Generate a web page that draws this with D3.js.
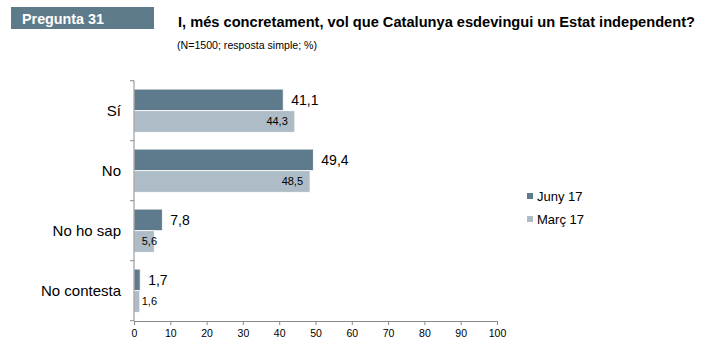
<html>
<script src="https://cdn.jsdelivr.net/npm/d3@7"></script>
<body style="margin:0">
<svg width=708 height=349></svg>
</body>
<script>

var categories = ["Sí", "No", "No ho sap", "No contesta"];
var series = ["Juny 17", "Març 17"];
var juny = [41.1, 49.4, 7.8, 1.7];
var marc = [44.3, 48.5, 5.6, 1.6];
var ticks = [0, 10, 20, 30, 40, 50, 60, 70, 80, 90, 100];
var colors = ["#5d7b8c", "#adbcc6"];

var svg = d3.select("svg").style("font-family", "Liberation Sans, Arial, sans-serif");
svg.append("rect").attr("width", 708).attr("height", 349).attr("fill", "#fff");

// header
svg.append("rect").attr("x", 11).attr("y", 7).attr("width", 143).attr("height", 22).attr("fill", "#5d7b8b");
svg.append("text").attr("x", 22).attr("y", 24).attr("fill", "#fff")
  .attr("font-weight", "bold").attr("font-size", 14.5)
  .attr("textLength", 82).attr("lengthAdjust", "spacingAndGlyphs").text("Pregunta 31");
svg.append("text").attr("x", 178).attr("y", 27).attr("fill", "#000")
  .attr("font-weight", "bold").attr("font-size", 14.5)
  .attr("textLength", 517).attr("lengthAdjust", "spacingAndGlyphs")
  .text("I, més concretament, vol que Catalunya esdevingui un Estat independent?");
svg.append("text").attr("x", 177).attr("y", 49).attr("font-size", 10.5)
  .attr("textLength", 140).attr("lengthAdjust", "spacingAndGlyphs")
  .text("(N=1500; resposta simple; %)");

var x = d3.scaleLinear().domain([0, 100]).range([134, 497]);
var y = d3.scaleBand().domain(categories).range([80.7, 320.7]).paddingInner(0.28).paddingOuter(0.14);
var y1 = d3.scaleBand().domain(series).range([0, y.bandwidth()]);

// bars
var data = categories.map(function(c, i) { return {cat: c, vals: [juny[i], marc[i]]}; });
var g = svg.selectAll("g.cat").data(data).enter().append("g")
  .attr("transform", function(d) { return "translate(0," + y(d.cat) + ")"; });

g.selectAll("rect").data(function(d) { return d.vals; }).enter().append("rect")
  .attr("x", x(0))
  .attr("y", function(d, i) { return y1(series[i]); })
  .attr("width", function(d) { return x(d) - x(0); })
  .attr("height", y1.bandwidth())
  .attr("fill", function(d, i) { return colors[i]; })
  .attr("stroke", "#fff").attr("stroke-width", 0.8);

// labels
g.append("text")
  .attr("x", function(d) { return x(d.vals[0]) + 8; })
  .attr("y", y1(series[0]) + y1.bandwidth() / 2)
  .attr("dy", "0.35em").attr("font-size", 14)
  .text(function(d) { return d3.format(".1f")(d.vals[0]).replace(".", ","); });
g.append("text")
  .attr("x", function(d) { return Math.max(x(d.vals[1]) - 7, 157); })
  .attr("y", y1(series[1]) + y1.bandwidth() / 2)
  .attr("dy", "0.35em").attr("font-size", 11).attr("text-anchor", "end")
  .text(function(d) { return d3.format(".1f")(d.vals[1]).replace(".", ","); });

// axes
var xAxis = svg.append("g").attr("transform", "translate(0,321)")
  .call(d3.axisBottom(x).tickValues(ticks).tickSize(4).tickSizeOuter(4));
xAxis.selectAll("path, line").attr("stroke", "#8a8a8a");
xAxis.selectAll("text").attr("font-size", 10.5).attr("fill", "#000")
  .attr("font-family", "Liberation Sans, Arial, sans-serif").attr("dy", "0.9em");

var yLine = svg.append("g");
yLine.append("line").attr("x1", 134).attr("x2", 134).attr("y1", 80.7).attr("y2", 321).attr("stroke", "#8a8a8a");
yLine.selectAll("line.t").data(categories.concat(["end"])).enter().append("line")
  .attr("x1", 130).attr("x2", 134)
  .attr("y1", function(d, i) { return 80.7 + i * 60; })
  .attr("y2", function(d, i) { return 80.7 + i * 60; })
  .attr("stroke", "#8a8a8a");

svg.selectAll("text.cat").data(categories).enter().append("text")
  .attr("x", 121).attr("y", function(d) { return y(d) + y.bandwidth() / 2; })
  .attr("dy", "0.35em").attr("text-anchor", "end").attr("font-size", 15)
  .text(function(d) { return d; });

// legend
var lg = svg.selectAll("g.leg").data(series).enter().append("g")
  .attr("transform", function(d, i) { return "translate(527," + (193 + i * 23) + ")"; });
lg.append("rect").attr("width", 6).attr("height", 6).attr("fill", function(d, i) { return colors[i]; });
lg.append("text").attr("x", 10).attr("y", 3).attr("dy", "0.35em").attr("font-size", 13)
  .text(function(d) { return d; });

</script>
</html>
